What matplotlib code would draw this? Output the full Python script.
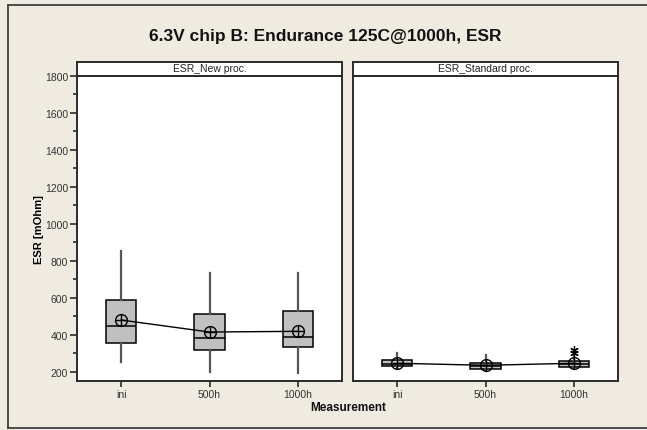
import matplotlib.pyplot as plt
import matplotlib.lines as mlines
import numpy as np

plt.rcParams['font.family'] = ['Liberation Sans', 'DejaVu Sans']

# ESR box statistics per measurement step
categories = ['ini', '500h', '1000h']
panels = ['ESR_New proc.', 'ESR_Standard proc.']

new_lo = [252, 198, 191]
new_q1 = [355, 319, 331]
new_med = [445, 380, 386]
new_q3 = [590, 510, 530]
new_hi = [853, 732, 732]
new_mean = [479, 414, 418]
new_fliers = [[], [], []]

std_lo = [218, 203, 212]
std_q1 = [229, 216, 225]
std_med = [242, 230, 240]
std_q3 = [265, 249, 259]
std_hi = [299, 290, 282]
std_mean = [245, 234, 245]
std_fliers = [[], [], [300, 315]]

y_ticks = [200, 400, 600, 800, 1000, 1200, 1400, 1600, 1800]

bg = '#EFEBE1'
box_fill = '#C0C0C0'

fig = plt.figure(figsize=(6.47, 4.31), dpi=100, facecolor=bg)

W, H = 647.0, 431.0


def fx(px):
    return px / W


def fy(py):
    return 1 - py / H


# outer frame
for xs, ys in [([8, 8], [6, 429]), ([8, 647], [6, 6]), ([8, 647], [429, 429])]:
    fig.add_artist(mlines.Line2D([fx(x) for x in xs], [fy(y) for y in ys],
                                 color='#404040', lw=1.3))

fig.text(fx(325), fy(37), '6.3V chip B: Endurance 125C@1000h, ESR',
         ha='center', va='center', fontsize=12.5, fontweight='bold', color='#111111')

panel_left = [77, 353]
panel_w = 265
top_px, bot_px, strip_top = 77, 382, 63

data = [
    (new_lo, new_q1, new_med, new_q3, new_hi, new_mean, new_fliers),
    (std_lo, std_q1, std_med, std_q3, std_hi, std_mean, std_fliers),
]

for i, (lx, title) in enumerate(zip(panel_left, panels)):
    ax = fig.add_axes([fx(lx), fy(bot_px), panel_w / W, (bot_px - top_px) / H])
    ax.set_facecolor('white')
    lo, q1, med, q3, hi, mean, fliers = data[i]
    stats = []
    for k, c in enumerate(categories):
        stats.append(dict(label=c, whislo=lo[k], q1=q1[k], med=med[k], q3=q3[k],
                          whishi=hi[k], mean=mean[k], fliers=fliers[k]))
    pos = np.arange(1, len(categories) + 1)
    ax.bxp(stats, positions=pos, widths=0.34, patch_artist=True, showcaps=False,
           boxprops=dict(facecolor=box_fill, edgecolor='black', linewidth=1.1),
           medianprops=dict(color='black', linewidth=1.1),
           whiskerprops=dict(color='#555555', linewidth=1.6),
           flierprops=dict(marker=(6, 2, 0), markersize=6, markeredgecolor='black',
                           markeredgewidth=0.9, linestyle='none'),
           zorder=2)
    # mean connect line with circled-cross symbol
    ax.plot(pos, mean, color='black', lw=1.0, zorder=3)
    ax.plot(pos, mean, linestyle='none', marker='o', markersize=8.5,
            markerfacecolor='none', markeredgecolor='black', markeredgewidth=1.0, zorder=4)
    ax.plot(pos, mean, linestyle='none', marker='+', markersize=8.5,
            markeredgecolor='black', markeredgewidth=1.0, zorder=4)

    ax.set_xlim(0.5, 3.5)
    ax.set_ylim(149, 1800)
    ax.set_xticks(pos)
    ax.set_xticklabels(categories)
    for s in ax.spines.values():
        s.set_color('#2a2a2a')
        s.set_linewidth(1.4)
    ax.tick_params(axis='x', length=4, width=1.2, color='#2a2a2a', labelsize=7.5,
                   labelcolor='#333333', pad=1.5)
    if i == 0:
        ax.set_yticks(y_ticks)
        ax.set_yticks(np.arange(300, 1800, 200), minor=True)
        ax.tick_params(axis='y', which='major', length=5, width=1.2, color='#2a2a2a',
                       labelsize=7.5, labelcolor='#333333', pad=1.5)
        ax.tick_params(axis='y', which='minor', length=3, width=1.2, color='#2a2a2a')
        ax.set_ylabel('ESR [mOhm]', fontsize=8, fontweight='bold', labelpad=0.5)
    else:
        ax.set_yticks([])

    # panel strip
    sax = fig.add_axes([fx(lx), fy(top_px), panel_w / W, (top_px - strip_top) / H])
    sax.set_facecolor('white')
    sax.set_xticks([])
    sax.set_yticks([])
    for s in sax.spines.values():
        s.set_color('#2a2a2a')
        s.set_linewidth(1.4)
    sax.text(0.5, 0.6, title, ha='center', va='center', fontsize=7.5,
             color='#222222', transform=sax.transAxes)

fig.text(fx(348), fy(408), 'Measurement', ha='center', va='center',
         fontsize=8.5, fontweight='bold', color='#111111')

fig.savefig('out.png', dpi=100, facecolor=bg)
